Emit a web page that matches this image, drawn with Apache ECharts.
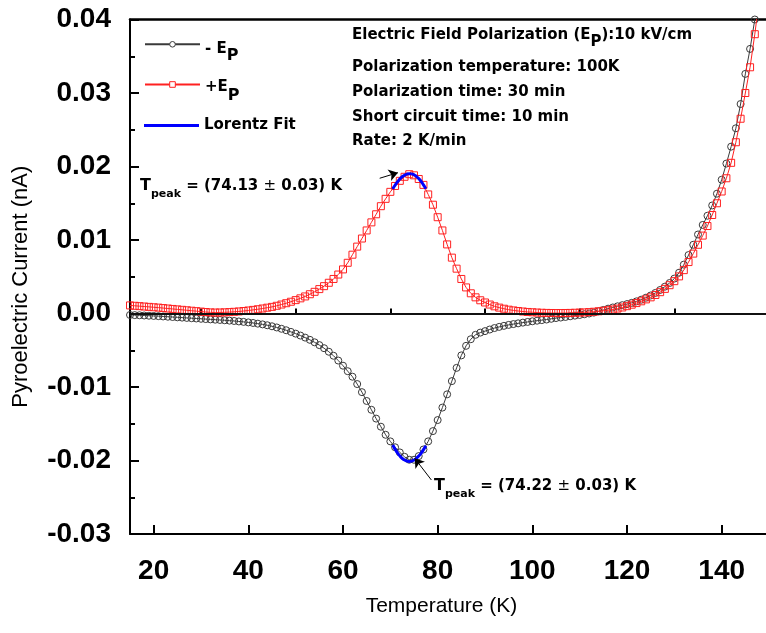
<!DOCTYPE html>
<html><head><meta charset="utf-8">
<script src="https://cdn.jsdelivr.net/npm/echarts@6/dist/echarts.min.js"></script>
<style>html,body{margin:0;padding:0;background:#fff}#c{width:766px;height:633px}</style>
</head><body><div id="c"></div>
<script>
// Temperature (K)
const temps = [
  15,16,17,18,19,20,21,22,23,24,
  25,26,27,28,29,30,31,32,33,34,
  35,36,37,38,39,40,41,42,43,44,
  45,46,47,48,49,50,51,52,53,54,
  55,56,57,58,59,60,61,62,63,64,
  65,66,67,68,69,70,71,72,73,74,
  75,76,77,78,79,80,81,82,83,84,
  85,86,87,88,89,90,91,92,93,94,
  95,96,97,98,99,100,101,102,103,104,
  105,106,107,108,109,110,111,112,113,114,
  115,116,117,118,119,120,121,122,123,124,
  125,126,127,128,129,130,131,132,133,134,
  135,136,137,138,139,140,141,142,143,144,
  145,146,147,148
];
// - E_P pyroelectric current (nA)
const negEp = [
  -0.00020,-0.00022,-0.00024,-0.00027,-0.00030,-0.00033,-0.00036,-0.00040,-0.00044,-0.00048,
  -0.00052,-0.00056,-0.00060,-0.00064,-0.00068,-0.00072,-0.00076,-0.00080,-0.00084,-0.00088,
  -0.00092,-0.00097,-0.00102,-0.00108,-0.00114,-0.00121,-0.00129,-0.00138,-0.00148,-0.00160,
  -0.00174,-0.00190,-0.00208,-0.00228,-0.00250,-0.00274,-0.00300,-0.00328,-0.00358,-0.00392,
  -0.00430,-0.00472,-0.00520,-0.00575,-0.00640,-0.00710,-0.00785,-0.00860,-0.00960,-0.01070,
  -0.01190,-0.01310,-0.01430,-0.01540,-0.01650,-0.01740,-0.01820,-0.01890,-0.01950,-0.01990,
  -0.01990,-0.01940,-0.01850,-0.01740,-0.01600,-0.01450,-0.01280,-0.01100,-0.00920,-0.00740,
  -0.00570,-0.00440,-0.00350,-0.00290,-0.00260,-0.00240,-0.00218,-0.00198,-0.00182,-0.00168,
  -0.00155,-0.00144,-0.00134,-0.00124,-0.00115,-0.00106,-0.00098,-0.00090,-0.00082,-0.00072,
  -0.00062,-0.00055,-0.00047,-0.00038,-0.00029,-0.00020,-0.00010,0.00000,0.00012,0.00030,
  0.00048,0.00066,0.00082,0.00098,0.00113,0.00128,0.00145,0.00165,0.00188,0.00215,
  0.00245,0.00280,0.00320,0.00365,0.00415,0.00475,0.00555,0.00665,0.00795,0.00935,
  0.01075,0.01205,0.01330,0.01470,0.01630,0.01820,0.02040,0.02270,0.02520,0.02850,
  0.03260,0.03600,0.04000,0.04400
];
// + E_P pyroelectric current (nA)
const posEp = [
  0.00110,0.00105,0.00100,0.00095,0.00090,0.00085,0.00080,0.00074,0.00068,0.00062,
  0.00056,0.00050,0.00044,0.00038,0.00032,0.00026,0.00020,0.00015,0.00013,0.00014,
  0.00016,0.00019,0.00023,0.00028,0.00034,0.00041,0.00049,0.00058,0.00068,0.00079,
  0.00090,0.00105,0.00122,0.00140,0.00160,0.00182,0.00206,0.00232,0.00262,0.00295,
  0.00332,0.00372,0.00418,0.00470,0.00530,0.00600,0.00690,0.00800,0.00910,0.01020,
  0.01130,0.01240,0.01350,0.01460,0.01560,0.01655,0.01735,0.01805,0.01860,0.01895,
  0.01880,0.01830,0.01750,0.01620,0.01480,0.01310,0.01130,0.00940,0.00760,0.00610,
  0.00470,0.00355,0.00275,0.00220,0.00180,0.00150,0.00122,0.00098,0.00080,0.00065,
  0.00052,0.00042,0.00034,0.00027,0.00021,0.00017,0.00013,0.00010,0.00008,0.00007,
  0.00006,0.00006,0.00007,0.00008,0.00010,0.00012,0.00015,0.00019,0.00024,0.00030,
  0.00037,0.00045,0.00055,0.00067,0.00082,0.00100,0.00120,0.00142,0.00166,0.00192,
  0.00220,0.00252,0.00290,0.00335,0.00385,0.00440,0.00505,0.00590,0.00700,0.00815,
  0.00935,0.01060,0.01190,0.01340,0.01500,0.01660,0.01840,0.02050,0.02330,0.02650,
  0.03000,0.03350,0.03800,0.04300
];
// Lorentz fits near the peaks
const fitTemps = [70.5,71,71.5,72,72.5,73,73.5,74,74.5,75,75.5,76,76.5,77,77.5];
const fitPos = [0.01695,0.01745,0.01790,0.01830,0.01860,0.01882,0.01897,0.01903,0.01900,0.01888,0.01866,0.01836,0.01797,0.01750,0.01698];
const fitNeg = [-0.01790,-0.01845,-0.01895,-0.01937,-0.01970,-0.01993,-0.02007,-0.02012,-0.02008,-0.01994,-0.01971,-0.01940,-0.01900,-0.01852,-0.01798];
// Ticks
const xMajorTicks = [20,40,60,80,100,120,140];
const xMinorTicks = [30,50,70,90,110,130];
// Annotation arrows (data coords): [tail, tip]
const arrowPos = [[67.75,0.0184],[71.6,0.01916]];
const arrowNeg = [[78.67,-0.02265],[75.15,-0.0197]];

const pair = (xs, ys) => xs.map((x, i) => [x, ys[i]]);

const TICKFONT = "'Liberation Sans',Arial,sans-serif";
const SANS = "'Liberation Sans',Arial,sans-serif";
const BOLD = "'DejaVu Sans',Verdana,sans-serif";
const GREY = '#3a3a3a';
const RED = '#ff2020';
const BLUE = '#0000ff';

const tok = (size, extra) => Object.assign({fontFamily: BOLD, fontWeight: 'bold', fontSize: size, color: '#000'}, extra || {});

const chart = echarts.init(document.getElementById('c'), null, {renderer: 'canvas'});

const arrowLine = (pts) => ({
  silent: true, animation: false,
  symbol: ['none', 'arrow'], symbolSize: 9,
  label: {show: false},
  lineStyle: {color: '#000', width: 1, type: 'solid'},
  data: [[{coord: pts[0]}, {coord: pts[1]}]]
});

const option = {
  animation: false,
  backgroundColor: '#fff',
  grid: {left: 130, right: -3, top: 19.5, bottom: 99, containLabel: false, outerBoundsMode: 'none'},
  xAxis: [
    {
      type: 'value', min: 15, max: 150, position: 'bottom',
      name: 'Temperature (K)', nameLocation: 'middle', nameGap: 62,
      nameTextStyle: {fontFamily: SANS, fontSize: 21, color: '#000', padding: [0, 16, 0, 0]},
      axisLine: {show: true, onZero: false, lineStyle: {color: '#000', width: 2}},
      axisTick: {show: true, inside: true, length: 9, customValues: xMajorTicks, lineStyle: {color: '#000', width: 2}},
      axisLabel: {customValues: xMajorTicks, margin: 23, fontFamily: TICKFONT, fontSize: 28, fontWeight: 'bold', color: '#000'},
      splitLine: {show: false}
    },
    {
      type: 'value', min: 15, max: 150, position: 'bottom',
      axisLine: {show: false},
      axisTick: {show: true, inside: true, length: 5, customValues: xMinorTicks, lineStyle: {color: '#000', width: 2}},
      axisLabel: {show: false}, splitLine: {show: false}
    },
    {
      type: 'value', min: 15, max: 150, position: 'top',
      axisLine: {show: true, onZero: false, lineStyle: {color: '#000', width: 2.5}},
      axisTick: {show: false}, axisLabel: {show: false}, splitLine: {show: false}
    }
  ],
  yAxis: {
    type: 'value', min: -0.03, max: 0.04, interval: 0.01,
    name: 'Pyroelectric Current (nA)', nameLocation: 'middle', nameGap: 98,
    nameTextStyle: {fontFamily: SANS, fontSize: 22, color: '#000', padding: [0, 20, 0, 0]},
    axisLine: {show: true, onZero: false, lineStyle: {color: '#000', width: 2}},
    axisTick: {show: true, inside: true, length: 9, lineStyle: {color: '#000', width: 2}},
    minorTick: {show: true, splitNumber: 2, length: 5, lineStyle: {color: '#000', width: 2}},
    axisLabel: {
      margin: 19, fontFamily: TICKFONT, fontSize: 28, fontWeight: 'bold', color: '#000',
      formatter: v => (Math.abs(v) < 1e-9 ? '0.00' : v.toFixed(2))
    },
    splitLine: {show: false}
  },
  legend: [
    {
      data: [{name: '- E_P', itemStyle: {color: '#fff', borderColor: GREY, borderWidth: 1}}],
      left: 139, top: 36, itemWidth: 55, itemHeight: 7, selectedMode: false,
      formatter: () => '{a|- E}{s|P}',
      textStyle: {rich: {a: tok(15, {padding: [10, 0, 0, 0]}), s: tok(16, {padding: [24, 0, 0, 0]})}}
    },
    {
      data: [{name: '+E_P', itemStyle: {color: '#fff', borderColor: RED, borderWidth: 1}}],
      left: 139, top: 75, itemWidth: 55, itemHeight: 7, selectedMode: false,
      formatter: () => '{a|+E}{s|P}',
      textStyle: {rich: {a: tok(15, {padding: [6, 0, 0, 0]}), s: tok(16, {padding: [22, 0, 0, 0]})}}
    },
    {
      data: [{name: 'Lorentz Fit', icon: 'rect', itemStyle: {color: BLUE, borderWidth: 0}}],
      left: 139, top: 113, itemWidth: 55, itemHeight: 3, selectedMode: false,
      textStyle: tok(15)
    }
  ],
  series: [
    {
      name: '- E_P', type: 'line', data: pair(temps, negEp),
      symbol: 'circle', symbolSize: 7, showAllSymbol: true,
      itemStyle: {color: 'transparent', borderColor: GREY, borderWidth: 1},
      lineStyle: {color: GREY, width: 1},
      emphasis: {disabled: true}, z: 2,
      markLine: {
        silent: true, animation: false, symbol: 'none', label: {show: false},
        lineStyle: {color: '#111', width: 2, type: 'solid'},
        data: [{yAxis: 0}]
      }
    },
    {
      name: '+E_P', type: 'line', data: pair(temps, posEp),
      symbol: 'rect', symbolSize: 7, showAllSymbol: true,
      itemStyle: {color: 'transparent', borderColor: RED, borderWidth: 1},
      lineStyle: {color: RED, width: 1},
      emphasis: {disabled: true}, z: 3,
      markLine: arrowLine(arrowPos)
    },
    {
      name: 'Lorentz Fit', type: 'line', data: pair(fitTemps, fitPos),
      symbol: 'none', smooth: true, lineStyle: {color: BLUE, width: 3},
      itemStyle: {color: BLUE}, emphasis: {disabled: true}, z: 4
    },
    {
      name: 'Lorentz Fit', type: 'line', data: pair(fitTemps, fitNeg),
      symbol: 'none', smooth: true, lineStyle: {color: BLUE, width: 3},
      itemStyle: {color: BLUE}, emphasis: {disabled: true}, z: 4,
      markLine: arrowLine(arrowNeg)
    }
  ],
  graphic: [
    {type: 'text', x: 352, y: 35, z: 10, style: {
      text: '{a|Electric Field Polarization (E}{s|P}{a|):10 kV/cm}', verticalAlign: 'middle',
      rich: {a: tok(15, {padding: [0, 0, 0, 0]}), s: tok(15, {padding: [14, 0, 0, 0]})}
    }},
    {type: 'text', x: 352, y: 67, z: 10, style: {text: 'Polarization temperature: 100K', verticalAlign: 'middle', font: "bold 15px 'DejaVu Sans'", fill: '#000'}},
    {type: 'text', x: 352, y: 92.5, z: 10, style: {text: 'Polarization time: 30 min', verticalAlign: 'middle', font: "bold 15px 'DejaVu Sans'", fill: '#000'}},
    {type: 'text', x: 352, y: 117.5, z: 10, style: {text: 'Short circuit time: 10 min', verticalAlign: 'middle', font: "bold 15px 'DejaVu Sans'", fill: '#000'}},
    {type: 'text', x: 352, y: 141.5, z: 10, style: {text: 'Rate: 2 K/min', verticalAlign: 'middle', font: "bold 15px 'DejaVu Sans'", fill: '#000'}},
    {type: 'text', x: 140, y: 186, z: 10, style: {
      text: '{t|T}{s|peak}{a| = (74.13 }{pm|±}{a| 0.03) K}', verticalAlign: 'middle',
      rich: {t: tok(16), s: tok(11, {padding: [16, 0, 0, 0]}), a: tok(15), pm: tok(15, {fontWeight: 'normal'})}
    }},
    {type: 'text', x: 434, y: 486, z: 10, style: {
      text: '{t|T}{s|peak}{a| = (74.22 }{pm|±}{a| 0.03) K}', verticalAlign: 'middle',
      rich: {t: tok(16), s: tok(11, {padding: [16, 0, 0, 0]}), a: tok(15), pm: tok(15, {fontWeight: 'normal'})}
    }}
  ]
};
chart.setOption(option);
</script>
</body></html>
